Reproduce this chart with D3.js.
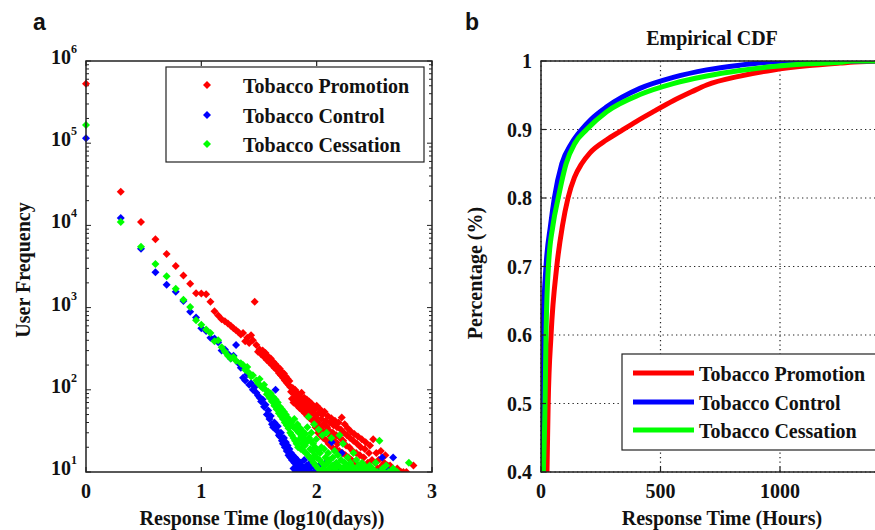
<!DOCTYPE html>
<html>
<head>
<meta charset="utf-8">
<script src="https://cdn.jsdelivr.net/npm/d3@7"></script>
<style>
  body { margin: 0; background: #fff; }
  svg text { font-family: "Liberation Serif", "Times New Roman", serif; font-weight: bold; fill: #111; }
  .panelLabel { font-family: "Liberation Sans", Arial, sans-serif !important; }
</style>
</head>
<body>
<div id="chart"></div>
<script>
// Canvas
var width = 875;
var height = 530;

// ---- panel a data: [day, user count] (x is log10 of day) ----
var promotionPoints = [
  [1,530000],[2,25700],[3,11000],[4,6800],[5,4500],[6,3200],[7,2450],[8,1950],[9,1500],[10,1480],
  [11,1450],[12,1180],[13,900],[14,800],[15,720],[16,680],[17,640],[18,600],[19,560],[20,530],
  [21,500],[22,470],[23,490],[24,390],[25,430],[26,370],[27,460],[28,400],[29,1180],[30,350],
  [31,290],[32,310],[33,270],[34,300],[35,250],[36,280],[37,230],[38,255],[39,215],[40,240],
  [41,200],[42,220],[43,185],[44,205],[45,175],[46,190],[47,160],[48,180],[49,150],[50,165],
  [51,140],[52,158],[53,130],[54,145],[55,122],[56,135],[57,115],[58,128],[59,108],[60,95],
  [61,78],[62,105],[63,70],[64,88],[65,100],[66,72],[67,84],[68,64],[69,90],[70,76],
  [71,60],[72,82],[73,68],[74,92],[75,56],[76,74],[77,63],[78,80],[79,52],[80,70],
  [81,58],[82,76],[83,48],[84,65],[85,54],[86,72],[87,45],[88,60],[89,50],[90,68],
  [92,42],[93,56],[94,62],[95,38],[96,50],[97,58],[98,35],[99,46],[100,64],[102,40],
  [103,30],[104,52],[106,36],[107,58],[108,28],[110,44],[111,33],[112,50],[114,26],[115,38],
  [117,54],[118,30],[120,42],[122,24],[123,35],[125,48],[127,22],[128,32],[130,40],[132,27],
  [134,45],[136,20],[138,30],[140,37],[142,24],[144,42],[146,19],[148,28],[150,35],[152,22],
  [155,40],[157,18],[160,26],[162,33],[165,46],[167,17],[170,24],[172,30],[175,38],[178,16],
  [180,21],[183,28],[186,34],[189,15],[192,20],[195,26],[198,31],[201,14],[205,18],[208,24],
  [212,29],[216,13],[220,17],[224,22],[228,27],[233,12],[237,16],[241,20],[246,25],[251,11],
  [256,15],[261,19],[266,23],[272,10],[278,13],[284,17],[290,21],[296,11],[302,14],[309,25],
  [315,10],[322,13],[329,17],[336,11],[344,14],[352,10],[360,18],[368,12],[376,10],[385,13],
  [394,16],[403,10],[413,12],[423,10],[433,12],[445,11],[457,10],[470,10],[485,10],[500,11],
  [520,10],[540,10],[565,10],[600,10],[690,12]
];

var controlPoints = [
  [1,115000],[2,12300],[3,5200],[4,2700],[5,1900],[6,1560],[7,1200],[8,890],[9,760],[10,560],
  [11,520],[12,430],[13,420],[14,380],[15,300],[16,310],[17,275],[18,240],[19,260],[20,350],
  [21,210],[22,185],[23,140],[24,130],[25,155],[26,115],[27,120],[28,100],[29,108],[30,92],
  [31,85],[32,80],[33,72],[34,76],[35,62],[36,66],[37,50],[38,56],[39,44],[40,48],
  [41,38],[42,35],[43,40],[44,100],[45,32],[46,36],[47,28],[48,27],[49,30],[50,24],
  [51,22],[52,26],[53,20],[54,23],[55,18],[56,21],[57,16],[58,19],[59,15],[60,17],
  [61,14],[62,16],[63,11],[64,13],[65,15],[66,10],[67,12],[68,14],[70,11],[71,10],
  [72,13],[74,12],[75,10],[77,11],[78,14],[80,10],[82,12],[84,10],[86,11],[88,13],
  [90,10],[93,12],[96,10],[99,11],[102,10],[105,12],[109,10],[112,11],[116,10],[120,13],
  [125,10],[130,11],[135,23],[138,10],[140,12],[148,10],[155,11],[163,10],[165,17],[172,10],
  [182,12],[192,10],[205,11],[220,10],[235,10],[250,11],[270,10],[290,10],[310,10],[340,10],
  [370,15],[400,11],[460,15]
];

var cessationPoints = [
  [1,166000],[2,11000],[3,5500],[4,3400],[5,2400],[6,1700],[7,1250],[8,1020],[9,700],[10,620],
  [11,540],[12,490],[13,390],[14,400],[15,330],[16,290],[17,260],[18,240],[19,250],[20,225],
  [22,210],[23,200],[24,175],[25,190],[26,160],[27,145],[28,150],[30,130],[31,120],[32,135],
  [33,110],[34,105],[35,115],[36,100],[37,88],[38,95],[39,80],[40,90],[41,72],[42,82],
  [43,64],[44,76],[45,58],[46,70],[47,52],[48,62],[49,48],[50,58],[51,44],[52,54],
  [53,40],[54,50],[55,37],[56,46],[57,34],[58,42],[59,30],[60,40],[61,28],[62,36],
  [63,26],[64,44],[65,24],[66,33],[67,22],[68,38],[69,20],[70,30],[71,25],[72,34],
  [73,19],[74,27],[75,22],[76,31],[77,18],[78,25],[79,21],[80,29],[81,17],[82,23],
  [83,35],[84,16],[85,47],[86,26],[87,15],[88,19],[89,24],[90,30],[91,14],[92,18],
  [93,22],[94,13],[95,38],[96,16],[97,20],[98,12],[99,25],[100,15],[102,18],[103,11],
  [104,33],[106,14],[107,17],[108,10],[110,20],[111,13],[112,28],[114,11],[116,19],[117,12],
  [119,15],[120,10],[122,30],[124,13],[126,17],[128,11],[130,14],[132,10],[134,26],[136,12],
  [138,15],[140,10],[143,18],[145,11],[148,13],[150,10],[153,16],[155,12],[158,28],[160,10],
  [163,14],[166,11],[169,22],[172,10],[175,13],[178,12],[181,10],[185,15],[188,11],[192,10],
  [196,13],[200,12],[204,10],[208,17],[212,11],[216,10],[221,14],[226,10],[231,12],[236,10],
  [241,11],[247,13],[253,10],[259,12],[265,10],[272,11],[280,10],[288,12],[296,10],[305,11],
  [315,10],[325,13],[335,10],[350,24],[360,10],[372,11],[385,10],[400,12],[420,10],[440,10],
  [460,11],[500,10],[630,13]
];

// ---- panel b data: empirical CDF, response time in hours ----
var promotionHours = [15, 25, 30, 42, 66, 90, 113, 140, 170, 205, 275, 330, 400, 470, 553, 630, 693, 833, 972, 1112, 1251, 1335, 1500];
var promotionCdf   = [0.30, 0.40, 0.50, 0.60, 0.70, 0.76, 0.80, 0.83, 0.85, 0.866, 0.885, 0.897, 0.912, 0.926, 0.942, 0.955, 0.965, 0.978, 0.987, 0.993, 0.997, 0.999, 1.0];

var controlHours = [0, 1, 3, 8, 21, 40, 56, 87, 128, 170, 210, 275, 414, 553, 693, 833, 972, 1020, 1500];
var controlCdf   = [0.30, 0.40, 0.50, 0.60, 0.70, 0.76, 0.80, 0.85, 0.88, 0.90, 0.915, 0.933, 0.96, 0.976, 0.987, 0.994, 0.999, 1.0, 1.0];

var cessationHours = [3, 10, 17, 21, 31, 50, 72, 105, 142, 191, 275, 414, 553, 693, 833, 972, 1112, 1251, 1300, 1500];
var cessationCdf   = [0.30, 0.40, 0.50, 0.60, 0.70, 0.76, 0.80, 0.85, 0.88, 0.90, 0.926, 0.951, 0.967, 0.978, 0.986, 0.992, 0.996, 0.998, 1.0, 1.0];

// series names / colours
var seriesNames = ["Tobacco Promotion", "Tobacco Control", "Tobacco Cessation"];
var seriesColors = ["#ff0000", "#0000ff", "#00ff00"];

// tick labels (1500 sits past the right edge of the picture)
var xTicksA = [0, 1, 2, 3];
var yExpA = [1, 2, 3, 4, 5, 6];
var xTicksB = [0, 500, 1000];
var yTicksB = [0.4, 0.5, 0.6, 0.7, 0.8, 0.9, 1];

var svg = d3.select("#chart")
    .append("svg")
    .attr("width", width)
    .attr("height", height);

var axisColor = "#222";

// ================= Panel a =================
var boxA = {left: 86, right: 432, top: 61, bottom: 472};

var xScaleA = d3.scaleLinear().domain([0, 3]).range([boxA.left, boxA.right]);
var yScaleA = d3.scaleLog().domain([10, 1e6]).range([boxA.bottom, boxA.top]);

svg.append("clipPath").attr("id", "clipA")
  .append("rect")
    .attr("x", boxA.left - 6)
    .attr("y", boxA.top - 6)
    .attr("width", boxA.right - boxA.left + 6)
    .attr("height", boxA.bottom - boxA.top + 6);

// log ticks (majors + minors)
var logTicks = yScaleA.ticks();
var isMajor = function(v) { return Math.abs(Math.log10(v) - Math.round(Math.log10(v))) < 1e-6; };

var gA = svg.append("g");

// left / right minor+major ticks
logTicks.forEach(function(v) {
  var len = isMajor(v) ? 5 : 3;
  var y = yScaleA(v);
  gA.append("line").attr("x1", boxA.left).attr("x2", boxA.left + len).attr("y1", y).attr("y2", y)
    .attr("stroke", axisColor).attr("stroke-width", 1);
  gA.append("line").attr("x1", boxA.right).attr("x2", boxA.right - len).attr("y1", y).attr("y2", y)
    .attr("stroke", axisColor).attr("stroke-width", 1);
});

// top / bottom ticks
xTicksA.forEach(function(t) {
  var x = xScaleA(t);
  gA.append("line").attr("x1", x).attr("x2", x).attr("y1", boxA.bottom).attr("y2", boxA.bottom - 5)
    .attr("stroke", axisColor).attr("stroke-width", 1.2);
  gA.append("line").attr("x1", x).attr("x2", x).attr("y1", boxA.top).attr("y2", boxA.top + 5)
    .attr("stroke", axisColor).attr("stroke-width", 1.2);
});

// scatter points: diamonds
function diamond(r) {
  return "M0," + (-r) + "L" + r + ",0L0," + r + "L" + (-r) + ",0Z";
}

var pointSets = [promotionPoints, controlPoints, cessationPoints];
var pts = gA.append("g").attr("clip-path", "url(#clipA)");
pointSets.forEach(function(set, i) {
  pts.selectAll("path.s" + i)
    .data(set)
    .enter()
    .append("path")
      .attr("class", "s" + i)
      .attr("d", diamond(4))
      .attr("transform", function(d) {
        return "translate(" + xScaleA(Math.log10(d[0])) + "," + yScaleA(d[1]) + ")";
      })
      .attr("fill", seriesColors[i]);
});

// axes box
gA.append("rect")
  .attr("x", boxA.left).attr("y", boxA.top)
  .attr("width", boxA.right - boxA.left).attr("height", boxA.bottom - boxA.top)
  .attr("fill", "none").attr("stroke", axisColor).attr("stroke-width", 1.5);

// y tick labels 10^k
yExpA.forEach(function(e) {
  var t = gA.append("text")
    .attr("x", boxA.left - 9)
    .attr("y", yScaleA(Math.pow(10, e)) + 3)
    .attr("text-anchor", "end")
    .attr("font-size", 20);
  t.append("tspan").text("10");
  t.append("tspan").attr("dy", -11).attr("font-size", 12).text(e);
});

// x tick labels
xTicksA.forEach(function(t) {
  gA.append("text")
    .attr("x", xScaleA(t))
    .attr("y", 498)
    .attr("text-anchor", "middle")
    .attr("font-size", 20)
    .text(t);
});

// axis titles
gA.append("text")
  .attr("x", 262).attr("y", 525)
  .attr("text-anchor", "middle").attr("font-size", 20)
  .text("Response Time (log10(days))");

gA.append("text")
  .attr("transform", "translate(30,270)rotate(-90)")
  .attr("text-anchor", "middle").attr("font-size", 20)
  .text("User Frequency");

// legend
var legA = gA.append("g");
legA.append("rect")
  .attr("x", 166).attr("y", 67).attr("width", 258).attr("height", 95)
  .attr("fill", "#fff").attr("stroke", axisColor).attr("stroke-width", 1.2);
var legAy = [85, 115, 144];
seriesNames.forEach(function(name, i) {
  legA.append("path")
    .attr("d", diamond(4))
    .attr("transform", "translate(207," + legAy[i] + ")")
    .attr("fill", seriesColors[i]);
  legA.append("text")
    .attr("x", 243).attr("y", legAy[i] + 8)
    .attr("font-size", 20)
    .text(name);
});

// panel label
svg.append("text").attr("class", "panelLabel")
  .attr("x", 33).attr("y", 30).attr("font-size", 23).text("a");

// ================= Panel b =================
var boxB = {left: 541, right: 899.5, top: 61, bottom: 472};

var xScaleB = d3.scaleLinear().domain([0, 1500]).range([boxB.left, boxB.right]);
var yScaleB = d3.scaleLinear().domain([0.4, 1]).range([boxB.bottom, boxB.top]);

var gB = svg.append("g");

svg.append("clipPath").attr("id", "clipB")
  .append("rect")
    .attr("x", boxB.left).attr("y", boxB.top)
    .attr("width", boxB.right - boxB.left).attr("height", boxB.bottom - boxB.top);

// dotted grid
yTicksB.forEach(function(t) {
  gB.append("line")
    .attr("x1", boxB.left).attr("x2", boxB.right)
    .attr("y1", yScaleB(t)).attr("y2", yScaleB(t))
    .attr("stroke", "#222").attr("stroke-width", 1.2)
    .attr("stroke-dasharray", "1.3,3.2");
});
xTicksB.forEach(function(t) {
  gB.append("line")
    .attr("x1", xScaleB(t)).attr("x2", xScaleB(t))
    .attr("y1", boxB.top).attr("y2", boxB.bottom)
    .attr("stroke", "#222").attr("stroke-width", 1.2)
    .attr("stroke-dasharray", "1.3,3.2");
});

// CDF curves
var cdfSets = [
  [promotionHours, promotionCdf],
  [controlHours, controlCdf],
  [cessationHours, cessationCdf]
];
var line = d3.line()
  .x(function(d) { return xScaleB(d[0]); })
  .y(function(d) { return yScaleB(d[1]); })
  .curve(d3.curveMonotoneX);

var curves = gB.append("g").attr("clip-path", "url(#clipB)");
cdfSets.forEach(function(s, i) {
  var data = s[0].map(function(h, j) { return [h, s[1][j]]; });
  curves.append("path")
    .datum(data)
    .attr("d", line)
    .attr("fill", "none")
    .attr("stroke", seriesColors[i])
    .attr("stroke-width", 5);
});

// axes box
gB.append("rect")
  .attr("x", boxB.left).attr("y", boxB.top)
  .attr("width", boxB.right - boxB.left).attr("height", boxB.bottom - boxB.top)
  .attr("fill", "none").attr("stroke", axisColor).attr("stroke-width", 1.5);

// ticks
xTicksB.forEach(function(t) {
  gB.append("line").attr("x1", xScaleB(t)).attr("x2", xScaleB(t))
    .attr("y1", boxB.bottom).attr("y2", boxB.bottom - 5)
    .attr("stroke", axisColor).attr("stroke-width", 1.2);
  gB.append("text")
    .attr("x", xScaleB(t)).attr("y", 498)
    .attr("text-anchor", "middle").attr("font-size", 20)
    .text(t);
});
yTicksB.forEach(function(t) {
  gB.append("line").attr("x1", boxB.left).attr("x2", boxB.left + 5)
    .attr("y1", yScaleB(t)).attr("y2", yScaleB(t))
    .attr("stroke", axisColor).attr("stroke-width", 1.2);
  gB.append("text")
    .attr("x", boxB.left - 9).attr("y", yScaleB(t) + 7)
    .attr("text-anchor", "end").attr("font-size", 20)
    .text(t);
});

// titles
gB.append("text")
  .attr("x", 712).attr("y", 45)
  .attr("text-anchor", "middle").attr("font-size", 20)
  .text("Empirical CDF");

gB.append("text")
  .attr("x", 722).attr("y", 525)
  .attr("text-anchor", "middle").attr("font-size", 20)
  .text("Response Time (Hours)");

gB.append("text")
  .attr("transform", "translate(482,273)rotate(-90)")
  .attr("text-anchor", "middle").attr("font-size", 20)
  .text("Percentage (%)");

// legend (runs past the right edge, as in the original figure)
var legB = gB.append("g");
legB.append("rect")
  .attr("x", 622).attr("y", 354).attr("width", 290).attr("height", 96)
  .attr("fill", "#fff").attr("stroke", axisColor).attr("stroke-width", 1.2);
var legBy = [373, 402, 430];
seriesNames.forEach(function(name, i) {
  legB.append("line")
    .attr("x1", 633).attr("x2", 694)
    .attr("y1", legBy[i]).attr("y2", legBy[i])
    .attr("stroke", seriesColors[i]).attr("stroke-width", 5);
  legB.append("text")
    .attr("x", 699).attr("y", legBy[i] + 8)
    .attr("font-size", 20)
    .text(name);
});

svg.append("text").attr("class", "panelLabel")
  .attr("x", 465).attr("y", 30).attr("font-size", 23).text("b");
</script>
</body>
</html>
